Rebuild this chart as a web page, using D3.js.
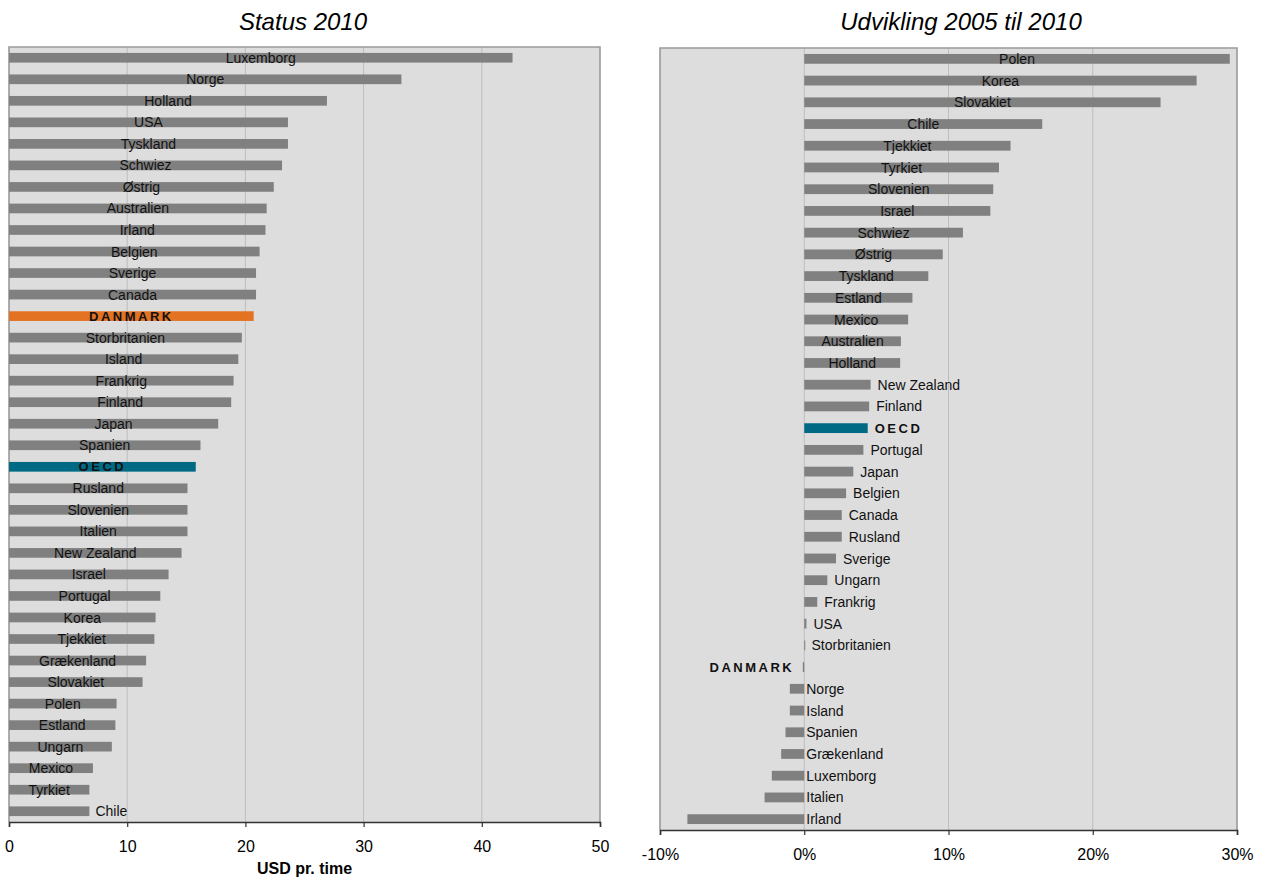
<!DOCTYPE html>
<html>
<head>
<meta charset="utf-8">
<script src="https://cdn.jsdelivr.net/npm/d3@7"></script>
<style>
  html, body { margin: 0; padding: 0; background: #ffffff; }
  svg { display: block; font-family: "Liberation Sans", Arial, sans-serif; }
</style>
</head>
<body>
<svg id="chart" width="1261" height="882"></svg>
<script>
// ---------- Data ----------
const statusCountries = ["Luxemborg","Norge","Holland","USA","Tyskland","Schwiez","Østrig","Australien","Irland","Belgien","Sverige","Canada","DANMARK","Storbritanien","Island","Frankrig","Finland","Japan","Spanien","OECD","Rusland","Slovenien","Italien","New Zealand","Israel","Portugal","Korea","Tjekkiet","Grækenland","Slovakiet","Polen","Estland","Ungarn","Mexico","Tyrkiet","Chile"];
const statusValues = [42.6,33.2,26.9,23.6,23.6,23.1,22.4,21.8,21.7,21.2,20.9,20.9,20.7,19.7,19.4,19.0,18.8,17.7,16.2,15.8,15.1,15.1,15.1,14.6,13.5,12.8,12.4,12.3,11.6,11.3,9.1,9.0,8.7,7.1,6.8,6.8];
const statusTicks = [0,10,20,30,40,50];

const devCountries = ["Polen","Korea","Slovakiet","Chile","Tjekkiet","Tyrkiet","Slovenien","Israel","Schwiez","Østrig","Tyskland","Estland","Mexico","Australien","Holland","New Zealand","Finland","OECD","Portugal","Japan","Belgien","Canada","Rusland","Sverige","Ungarn","Frankrig","USA","Storbritanien","DANMARK","Norge","Island","Spanien","Grækenland","Luxemborg","Italien","Irland"];
const devValues = [29.5,27.2,24.7,16.5,14.3,13.5,13.1,12.9,11.0,9.6,8.6,7.5,7.2,6.7,6.65,4.6,4.5,4.4,4.1,3.4,2.9,2.6,2.6,2.2,1.6,0.9,0.15,0.02,-0.1,-1.0,-1.0,-1.3,-1.6,-2.25,-2.75,-8.1];
const devTicks = [-10,0,10,20,30];

const titles = ["Status 2010", "Udvikling 2005 til 2010"];
const xAxisTitle = "USD pr. time";

// ---------- Style ----------
const C = {
  bar: "#808080", danmark: "#E37222", oecd: "#006A85",
  plotBg: "#DDDDDD", grid: "#BDBDBD", frame: "#9A9A9A", axis: "#333333", text: "#111111"
};
const svg = d3.select("#chart");

function barColor(name, highlightDk) {
  if (name === "OECD") return C.oecd;
  if (name === "DANMARK" && highlightDk) return C.danmark;
  return C.bar;
}

function drawPanel(opts) {
  const { x0, x1, y0, y1, domain, ticks, fmt, cats, vals, title, titleX, highlightDk, labelPos } = opts;
  const g = svg.append("g");
  const x = d3.scaleLinear().domain(domain).range([x0, x1]);
  const y = d3.scaleBand().domain(cats).range([y0, y1]).paddingInner(0.55).paddingOuter(0.275);

  // plot background
  g.append("rect").attr("x", x0).attr("y", y0).attr("width", x1 - x0).attr("height", y1 - y0)
    .attr("fill", C.plotBg);

  // gridlines
  g.selectAll("line.grid").data(ticks.filter(t => t !== domain[0] && t !== domain[1]))
    .join("line").attr("class", "grid")
    .attr("x1", d => x(d)).attr("x2", d => x(d))
    .attr("y1", y0).attr("y2", y1)
    .attr("stroke", C.grid).attr("stroke-width", 1);

  // frame (top/left/right)
  g.append("path")
    .attr("d", `M${x0},${y1}V${y0}H${x1}V${y1}`)
    .attr("fill", "none").attr("stroke", C.frame).attr("stroke-width", 1.6);

  // bars
  const data = cats.map((c, i) => ({ name: c, v: vals[i], i }));
  g.selectAll("rect.bar").data(data).join("rect").attr("class", "bar")
    .attr("x", d => x(Math.min(0, d.v)))
    .attr("width", d => Math.max(1, Math.abs(x(d.v) - x(0))))
    .attr("y", d => y(d.name))
    .attr("height", y.bandwidth())
    .attr("fill", d => barColor(d.name, highlightDk));

  // labels
  g.selectAll("text.lbl").data(data).join("text").attr("class", "lbl")
    .each(function(d) {
      const p = labelPos(d, x, data.length);
      const bold = d.name === "DANMARK" || d.name === "OECD";
      d3.select(this)
        .attr("x", p.x).attr("text-anchor", p.anchor)
        .attr("y", y(d.name) + y.bandwidth() / 2).attr("dy", "0.36em")
        .attr("font-size", bold ? 13 : 14)
        .attr("font-weight", bold ? "bold" : "normal")
        .attr("letter-spacing", bold ? "2.5px" : "0px")
        .attr("fill", C.text)
        .text(d.name);
    });

  // x axis
  const ax = g.append("g").attr("transform", `translate(0,${y1})`)
    .call(d3.axisBottom(x).tickValues(ticks).tickFormat(fmt).tickSize(5).tickPadding(14));
  ax.select(".domain").attr("stroke", C.axis).attr("stroke-width", 1.6);
  ax.selectAll(".tick line").attr("stroke", C.axis).attr("stroke-width", 1.2);
  ax.selectAll(".tick text").attr("font-size", 16).attr("fill", "#000")
    .attr("font-family", "Liberation Sans, Arial, sans-serif");

  // title
  svg.append("text").attr("x", titleX).attr("y", 29.5)
    .attr("text-anchor", "middle").attr("font-size", 24).attr("font-style", "italic")
    .attr("fill", "#000").text(title);
  return { x, y };
}

// Left panel
drawPanel({
  x0: 9, x1: 600, y0: 47, y1: 822,
  domain: [0, 50], ticks: statusTicks, fmt: d => String(d),
  cats: statusCountries, vals: statusValues, title: titles[0], titleX: 303, highlightDk: true,
  labelPos: (d, x, n) => d.i === n - 1
    ? { x: x(d.v) + 6, anchor: "start" }
    : { x: x(d.v / 2), anchor: "middle" }
});
svg.append("text").attr("x", (9 + 600) / 2).attr("y", 874).attr("text-anchor", "middle")
  .attr("font-size", 16).attr("font-weight", "bold").attr("fill", "#000").text(xAxisTitle);

// Right panel
drawPanel({
  x0: 660, x1: 1237, y0: 48, y1: 830,
  domain: [-10, 30], ticks: devTicks, fmt: d => (d < 0 ? "-" : "") + Math.abs(d) + "%",
  cats: devCountries, vals: devValues, title: titles[1], titleX: 961, highlightDk: false,
  labelPos: (d, x) => {
    if (d.v >= 6) return { x: x(d.v / 2), anchor: "middle" };
    if (d.name === "DANMARK") return { x: x(0) - 10, anchor: "end" };
    if (d.v >= 0) return { x: x(d.v) + 7, anchor: "start" };
    return { x: x(0) + 2, anchor: "start" };
  }
});
</script>
</body>
</html>
